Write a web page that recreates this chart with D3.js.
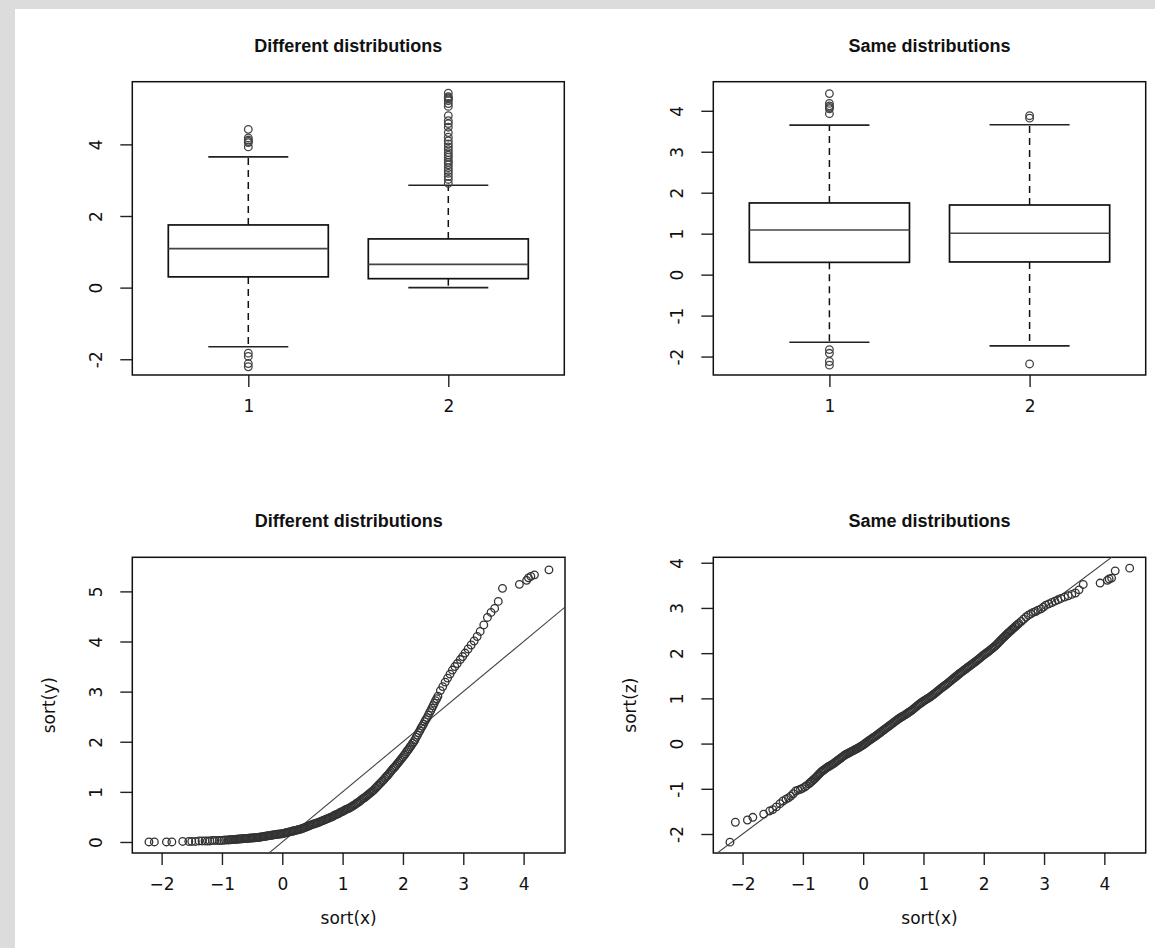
<!DOCTYPE html>
<html>
<head>
<meta charset="utf-8">
<script src="https://cdnjs.cloudflare.com/ajax/libs/d3/7.8.5/d3.min.js"></script>
<style>
body { margin: 0; background: #fff; }
text { font-family: "DejaVu Sans", sans-serif; fill: #111; }
.title { font-family: "Liberation Sans", Arial, sans-serif; font-weight: bold; font-size: 18px; }
.lab { font-size: 17px; }
</style>
</head>
<body>
<div id="canvas"></div>
<script>
// sorted samples (x is shared by both)
var qx = [-2.21,-2.12,-1.92,-1.83,-1.65,-1.55,-1.50,-1.44,-1.38,-1.33,-1.28,-1.24,-1.20,-1.16,-1.12,-1.08,-1.04,-1.01,-0.97,-0.94,
  -0.90,-0.88,-0.86,-0.84,-0.82,-0.80,-0.78,-0.76,-0.74,-0.72,
  -0.70,-0.68,-0.66,-0.64,-0.62,-0.60,-0.58,-0.56,-0.54,-0.52,
  -0.50,-0.48,-0.46,-0.44,-0.42,-0.40,-0.38,-0.36,-0.34,-0.32,
  -0.30,-0.28,-0.26,-0.24,-0.22,-0.20,-0.18,-0.16,-0.14,-0.12,
  -0.10,-0.08,-0.06,-0.04,-0.02,0.00,0.02,0.04,0.06,0.08,
  0.10,0.12,0.14,0.16,0.18,0.20,0.22,0.24,0.26,0.28,
  0.30,0.32,0.34,0.36,0.38,0.40,0.42,0.44,0.46,0.48,
  0.50,0.52,0.54,0.56,0.58,0.60,0.62,0.64,0.66,0.68,
  0.70,0.72,0.74,0.76,0.78,0.80,0.82,0.84,0.86,0.88,
  0.90,0.92,0.94,0.96,0.98,1.00,1.02,1.04,1.06,1.08,
  1.10,1.12,1.14,1.16,1.18,1.20,1.22,1.24,1.26,1.28,
  1.30,1.32,1.34,1.36,1.38,1.40,1.42,1.44,1.46,1.48,
  1.50,1.52,1.54,1.56,1.58,1.60,1.62,1.64,1.66,1.68,
  1.70,1.72,1.74,1.76,1.78,1.80,1.82,1.84,1.86,1.88,
  1.90,1.92,1.94,1.96,1.98,2.00,2.02,2.04,2.06,2.08,
  2.10,2.12,2.14,2.16,2.18,2.20,2.22,2.24,2.26,2.28,
  2.30,2.32,2.34,2.36,2.38,2.40,2.42,2.44,2.46,2.48,
  2.50,2.52,2.54,2.56,2.58,
  2.62,2.66,2.70,2.74,2.78,2.82,2.86,2.90,2.95,2.99,3.03,3.08,3.13,3.18,3.23,3.28,3.34,3.40,3.46,3.52,
  3.58,3.65,3.93,4.05,4.08,4.12,4.18,4.42];
var qy = [0.00,0.00,0.00,0.00,0.01,0.01,0.01,0.01,0.02,0.02,0.02,0.02,0.02,0.03,0.03,0.03,0.03,0.03,0.035,0.038,
  0.040,0.042,0.044,0.046,0.048,0.050,0.052,0.054,0.056,0.058,
  0.060,0.062,0.064,0.066,0.068,0.070,0.072,0.074,0.076,0.078,
  0.080,0.082,0.084,0.086,0.088,0.090,0.094,0.098,0.102,0.106,
  0.110,0.114,0.118,0.122,0.126,0.130,0.134,0.138,0.142,0.146,
  0.150,0.153,0.156,0.159,0.162,0.165,0.171,0.177,0.183,0.189,
  0.195,0.201,0.207,0.213,0.219,0.225,0.231,0.237,0.243,0.249,
  0.255,0.264,0.273,0.282,0.291,0.30,0.31,0.32,0.33,0.34,
  0.35,0.358,0.366,0.374,0.382,0.39,0.40,0.41,0.42,0.43,
  0.44,0.45,0.46,0.47,0.48,0.49,0.50,0.51,0.53,0.54,
  0.55,0.56,0.57,0.59,0.60,0.61,0.62,0.64,0.65,0.66,
  0.67,0.68,0.70,0.71,0.73,0.74,0.76,0.78,0.79,0.81,
  0.83,0.85,0.87,0.88,0.90,0.92,0.94,0.96,0.98,1.00,
  1.02,1.04,1.07,1.09,1.12,1.14,1.17,1.19,1.22,1.24,
  1.27,1.30,1.32,1.35,1.38,1.41,1.44,1.47,1.49,1.52,
  1.55,1.58,1.61,1.64,1.67,1.70,1.73,1.76,1.80,1.83,
  1.86,1.90,1.93,1.97,2.00,2.04,2.09,2.13,2.18,2.22,
  2.27,2.31,2.35,2.40,2.44,2.48,2.53,2.58,2.62,2.67,
  2.72,2.77,2.82,2.86,2.91,
  3.02,3.10,3.19,3.27,3.35,3.43,3.50,3.56,3.64,3.70,3.77,3.85,3.93,4.01,4.10,4.20,4.33,4.48,4.58,4.66,
  4.80,5.06,5.14,5.22,5.27,5.30,5.33,5.43];
var qz = [-2.18,-1.74,-1.69,-1.63,-1.56,-1.49,-1.46,-1.40,-1.33,-1.27,-1.23,-1.20,-1.16,-1.11,-1.05,-1.03,-1.01,-0.99,-0.96,-0.93,
  -0.890,-0.866,-0.842,-0.818,-0.794,-0.770,-0.742,-0.714,-0.686,-0.658,
  -0.630,-0.610,-0.590,-0.570,-0.550,-0.530,-0.514,-0.498,-0.482,-0.466,
  -0.450,-0.430,-0.410,-0.390,-0.370,-0.350,-0.330,-0.310,-0.290,-0.270,
  -0.250,-0.236,-0.222,-0.208,-0.194,-0.180,-0.166,-0.152,-0.138,-0.124,
  -0.110,-0.094,-0.078,-0.062,-0.046,-0.030,-0.010,0.010,0.030,0.050,
  0.070,0.088,0.106,0.124,0.142,0.160,0.180,0.200,0.220,0.240,
  0.260,0.280,0.300,0.320,0.340,0.360,0.380,0.400,0.420,0.440,
  0.460,0.480,0.500,0.520,0.540,0.560,0.576,0.592,0.608,0.624,
  0.640,0.658,0.676,0.694,0.712,0.730,0.752,0.774,0.796,0.818,
  0.840,0.860,0.880,0.900,0.920,0.940,0.956,0.972,0.988,1.004,
  1.020,1.040,1.060,1.080,1.100,1.120,1.142,1.164,1.186,1.208,
  1.230,1.250,1.270,1.290,1.310,1.330,1.352,1.374,1.396,1.418,
  1.440,1.462,1.484,1.506,1.528,1.550,1.570,1.590,1.610,1.630,
  1.650,1.670,1.690,1.710,1.730,1.750,1.770,1.790,1.810,1.830,
  1.850,1.872,1.894,1.916,1.938,1.960,1.980,2.000,2.020,2.040,
  2.060,2.082,2.104,2.126,2.148,2.170,2.198,2.226,2.254,2.282,
  2.310,2.336,2.362,2.388,2.414,2.440,2.464,2.488,2.512,2.536,
  2.560,2.584,2.608,2.632,2.656,
  2.70,2.75,2.80,2.84,2.87,2.90,2.92,2.95,2.98,3.02,3.06,3.09,3.12,3.15,3.18,3.21,3.24,3.27,3.30,3.33,
  3.40,3.52,3.55,3.61,3.64,3.66,3.82,3.88];

// boxplot stats: lower whisker, Q1, median, Q3, upper whisker
var xStats = [-1.65, 0.30, 1.09, 1.75, 3.65];
var yStats = [0.00, 0.25, 0.65, 1.36, 2.86];
var zStats = [-1.74, 0.31, 1.01, 1.70, 3.66];
var boxNames = [1, 2];
var refLine = [0, 1]; // intercept, slope

var titles = ["Different distributions", "Same distributions"];
var tlTicks = [-2, 0, 2, 4];
var trTicks = [-2, -1, 0, 1, 2, 3, 4];
var blTicks = [0, 1, 2, 3, 4, 5];
var brTicks = [-2, -1, 0, 1, 2, 3, 4];
var qqXTicks = [-2, -1, 0, 1, 2, 3, 4];

function init() {
    var svg = d3.select("#canvas").append("svg")
        .attr("width", 1155)
        .attr("height", 948);
    svg.append("rect")
        .attr("width", 1155).attr("height", 948)
        .attr("fill", "#dcdcdc");
    svg.append("rect")
        .attr("x", 15).attr("y", 9)
        .attr("width", 1140).attr("height", 939)
        .attr("fill", "#fff");

    // top row: boxplots
    var p1 = AddPanel(svg, 132.3, 81.7, 432, 293.3, [0.42, 2.58], [-2.44, 5.75], titles[0], null, null, boxNames, tlTicks);
    AddBox(p1, 1, xStats, qx);
    AddBox(p1, 2, yStats, qy);

    var p2 = AddPanel(svg, 713.3, 81.7, 432.4, 293.3, [0.42, 2.58], [-2.45, 4.71], titles[1], null, null, boxNames, trTicks);
    AddBox(p2, 1, xStats, qx);
    AddBox(p2, 2, zStats, qz);

    // bottom row: qq plots
    var p3 = AddPanel(svg, 132.3, 557.3, 432.7, 295.7, [-2.486, 4.686], [-0.22, 5.68], titles[0], "sort(x)", "sort(y)", qqXTicks, blTicks, true);
    AddQQ(p3, qx, qy);

    var p4 = AddPanel(svg, 713.3, 557.3, 432.4, 295.7, [-2.486, 4.686], [-2.42, 4.12], titles[1], "sort(x)", "sort(z)", qqXTicks, brTicks, true);
    AddQQ(p4, qx, qz);
}

function AddPanel(svg, left, top, w, h, xdom, ydom, title, xlab, ylab, xticks, yticks, qq) {
    var g = svg.append("g").attr("transform", "translate(" + left + "," + top + ")");
    var x = d3.scaleLinear().domain(xdom).range([0, w]);
    var y = d3.scaleLinear().domain(ydom).range([h, 0]);

    var xa = d3.axisBottom(x).tickValues(xticks).tickSize(12);
    if (!qq) xa.tickFormat(function (d) { return String(d); });
    var gx = g.append("g").attr("transform", "translate(0," + h + ")").call(xa);
    gx.select(".domain").remove();
    gx.selectAll("line").attr("stroke", "#222").attr("stroke-width", 1.4);
    gx.selectAll("text").attr("class", "lab").attr("y", 37).attr("dy", null);

    var ya = d3.axisLeft(y).tickValues(yticks).tickSize(12)
        .tickFormat(function (d) { return String(d); });
    var gy = g.append("g").call(ya);
    gy.select(".domain").remove();
    gy.selectAll("line").attr("stroke", "#222").attr("stroke-width", 1.4);
    gy.selectAll("text").attr("class", "lab")
        .attr("x", 0).attr("dy", "0.36em")
        .attr("text-anchor", "middle")
        .attr("transform", "translate(-36,0) rotate(-90)");
    gx.attr("font-size", null).attr("font-family", null);
    gy.attr("font-size", null).attr("font-family", null);

    g.append("rect")
        .attr("width", w).attr("height", h)
        .attr("fill", "none")
        .attr("stroke", "#111")
        .attr("stroke-width", 1.5);

    g.append("text")
        .attr("class", "title")
        .attr("x", w / 2).attr("y", -30)
        .attr("text-anchor", "middle")
        .text(title);
    if (xlab) {
        g.append("text").attr("class", "lab")
            .attr("x", w / 2).attr("y", h + 71)
            .attr("text-anchor", "middle")
            .text(xlab);
    }
    if (ylab) {
        g.append("text").attr("class", "lab")
            .attr("transform", "translate(-83," + (h / 2) + ") rotate(-90)")
            .attr("dy", "0.36em")
            .attr("text-anchor", "middle")
            .text(ylab);
    }
    var cid = "clip" + Math.round(left) + "_" + Math.round(top);
    g.append("clipPath").attr("id", cid)
        .append("rect").attr("width", w).attr("height", h);
    return { g: g, x: x, y: y, clip: cid };
}

function AddBox(p, pos, stats, values) {
    var g = p.g.append("g"), x = p.x, y = p.y;
    var outliers = values.filter(function (v) { return v < stats[0] || v > stats[4]; });
    // whiskers
    g.selectAll(".wh").data([[stats[3], stats[4]], [stats[1], stats[0]]]).enter()
        .append("line")
        .attr("x1", x(pos)).attr("x2", x(pos))
        .attr("y1", function (d) { return y(d[0]); })
        .attr("y2", function (d) { return y(d[1]); })
        .attr("stroke", "#111").attr("stroke-width", 1.5)
        .attr("stroke-dasharray", "7,5");
    g.selectAll(".cap").data([stats[0], stats[4]]).enter()
        .append("line")
        .attr("x1", x(pos - 0.2)).attr("x2", x(pos + 0.2))
        .attr("y1", function (d) { return y(d); })
        .attr("y2", function (d) { return y(d); })
        .attr("stroke", "#222").attr("stroke-width", 1.6);
    g.append("rect")
        .attr("x", x(pos - 0.4))
        .attr("width", x(pos + 0.4) - x(pos - 0.4))
        .attr("y", y(stats[3]))
        .attr("height", y(stats[1]) - y(stats[3]))
        .attr("fill", "#fff")
        .attr("stroke", "#111").attr("stroke-width", 1.7);
    g.append("line")
        .attr("x1", x(pos - 0.4)).attr("x2", x(pos + 0.4))
        .attr("y1", y(stats[2])).attr("y2", y(stats[2]))
        .attr("stroke", "#444").attr("stroke-width", 1.6);
    g.selectAll("circle").data(outliers).enter()
        .append("circle")
        .attr("cx", x(pos))
        .attr("cy", function (d) { return y(d); })
        .attr("r", 3.8)
        .attr("fill", "none")
        .attr("stroke", "#444").attr("stroke-width", 1.3);
}

function AddQQ(p, xs, ys) {
    var x = p.x, y = p.y;
    var pts = xs.map(function (v, i) { return [v, ys[i]]; })
        .filter(function (d) { return d[1] !== undefined; });
    var xd = x.domain();
    p.g.append("line")
        .attr("clip-path", "url(#" + p.clip + ")")
        .attr("x1", x(xd[0])).attr("y1", y(refLine[0] + refLine[1] * xd[0]))
        .attr("x2", x(xd[1])).attr("y2", y(refLine[0] + refLine[1] * xd[1]))
        .attr("stroke", "#444").attr("stroke-width", 1.1);
    p.g.append("g").selectAll("circle").data(pts).enter()
        .append("circle")
        .attr("cx", function (d) { return x(d[0]); })
        .attr("cy", function (d) { return y(d[1]); })
        .attr("r", 3.8)
        .attr("fill", "none")
        .attr("stroke", "#333").attr("stroke-width", 1.3);
}

window.onload = init;
</script>
</body>
</html>
